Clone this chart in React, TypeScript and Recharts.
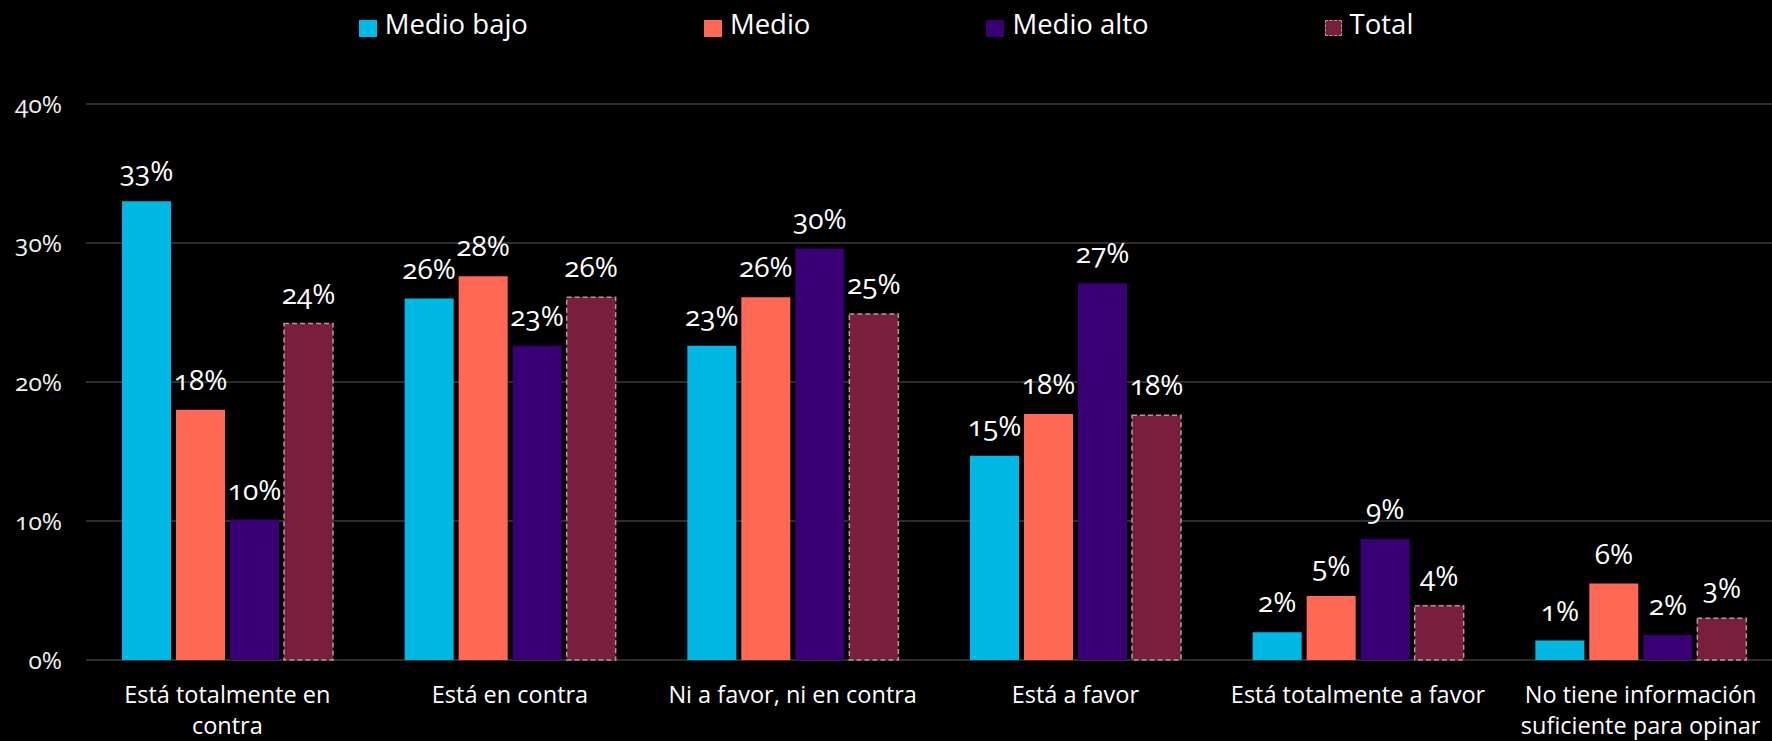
import React from "react";
import { BarChart, Bar, XAxis, YAxis, CartesianGrid, Legend, LabelList } from "recharts";

const categories = [
    "Está totalmente en contra",
    "Está en contra",
    "Ni a favor, ni en contra",
    "Está a favor",
    "Está totalmente a favor",
    "No tiene información suficiente para opinar"
];
const medioBajo = [33, 26, 22.6, 14.7, 2.0, 1.4];
const medio = [18.0, 27.6, 26.1, 17.7, 4.6, 5.5];
const medioAlto = [10.1, 22.6, 29.6, 27.1, 8.7, 1.8];
const total = [24.2, 26.1, 24.9, 17.6, 3.9, 3.0];
const yTicks = [0, 10, 20, 30, 40];

const seriesNames = ["Medio bajo", "Medio", "Medio alto", "Total"];

const data = categories.map((name, i) => ({
    name,
    medioBajo: medioBajo[i],
    medio: medio[i],
    medioAlto: medioAlto[i],
    total: total[i]
}));

const FONT = "'Open Sans', 'DejaVu Sans', sans-serif";
const colors = ["#00b8e4", "#ff6955", "#380072", "#7a1e3d"];

// break long category names into lines of at most 24 chars
function splitLines(text: string) {
    const words = text.split(" ");
    const lines: string[] = [];
    let cur = "";
    words.forEach(w => {
        const next = cur ? cur + " " + w : w;
        if (next.length > 24 && cur) {
            lines.push(cur);
            cur = w;
        } else {
            cur = next;
        }
    });
    if (cur) lines.push(cur);
    return lines;
}

const CategoryTick = (props: any) => {
    const { x, y, payload } = props;
    const lines = splitLines(payload.value);
    return (
        <text x={x} y={y} textAnchor="middle" fill="#ffffff" fontSize={23.5} fontFamily={FONT}>
            {lines.map((l, i) => (
                <tspan key={i} x={x} dy={i === 0 ? 43 : 31}>{l}</tspan>
            ))}
        </text>
    );
};

const LegendBox = () => (
    <div style={{ display: "flex", justifyContent: "center", height: 40, fontFamily: FONT, fontSize: 27.5, color: "#fff" }}>
        {seriesNames.map((n, i) => (
            <div key={n} style={{ display: "flex", alignItems: "center", marginRight: i < 3 ? 176 : 0, height: 40 }}>
                <span style={{
                    display: "inline-block", width: i === 3 ? 15 : 18, height: i === 3 ? 14 : 17, marginRight: 8, marginTop: 8,
                    background: colors[i], border: i === 3 ? "1.5px dashed #b09aa2" : "none"
                }} />
                <span style={{ lineHeight: "40px" }}>{n}</span>
            </div>
        ))}
    </div>
);

const labelProps = {
    position: "top" as const,
    offset: 20,
    fill: "#ffffff",
    fontSize: 28,
    fontFamily: FONT,
    style: { fontFeatureSettings: '"onum"' },
    formatter: (v: any) => `${Math.round(v)}%`
};

export default function App() {
    return (
        <div style={{ position: "absolute", left: 0, top: 0, width: 1772, height: 741, background: "#000", overflow: "hidden" }}>
            <BarChart width={1772} height={741} data={data}
                margin={{ top: 64, right: -10, bottom: 0, left: 0 }}
                barCategoryGap={36} barGap={5}>
                <CartesianGrid vertical={false} stroke="#3c3c3c" strokeWidth={1.5} />
                <XAxis dataKey="name" axisLine={false} tickLine={false} tickSize={0} tickMargin={0}
                    height={81} interval={0} tick={<CategoryTick />} />
                <YAxis domain={[0, 40]} ticks={yTicks} width={86} axisLine={false} tickLine={false}
                    tickSize={0} tickMargin={24} tickFormatter={(v: number) => `${v}%`}
                    tick={{ fill: "#f0f0f0", fontSize: 24.5, fontFamily: FONT, style: { fontFeatureSettings: '"onum"' } }} />
                <Legend verticalAlign="top" content={<LegendBox />}
                    wrapperStyle={{ top: 4, left: 0, width: 1772 }} />
                <Bar dataKey="medioBajo" name="Medio bajo" fill={colors[0]} isAnimationActive={false}>
                    <LabelList dataKey="medioBajo" {...labelProps} />
                </Bar>
                <Bar dataKey="medio" name="Medio" fill={colors[1]} isAnimationActive={false}>
                    <LabelList dataKey="medio" {...labelProps} />
                </Bar>
                <Bar dataKey="medioAlto" name="Medio alto" fill={colors[2]} isAnimationActive={false}>
                    <LabelList dataKey="medioAlto" {...labelProps} />
                </Bar>
                <Bar dataKey="total" name="Total" fill={colors[3]} stroke="#ad9aa1" strokeWidth={1.5}
                    strokeDasharray="5 3" isAnimationActive={false}>
                    <LabelList dataKey="total" {...labelProps} />
                </Bar>
            </BarChart>
        </div>
    );
}
